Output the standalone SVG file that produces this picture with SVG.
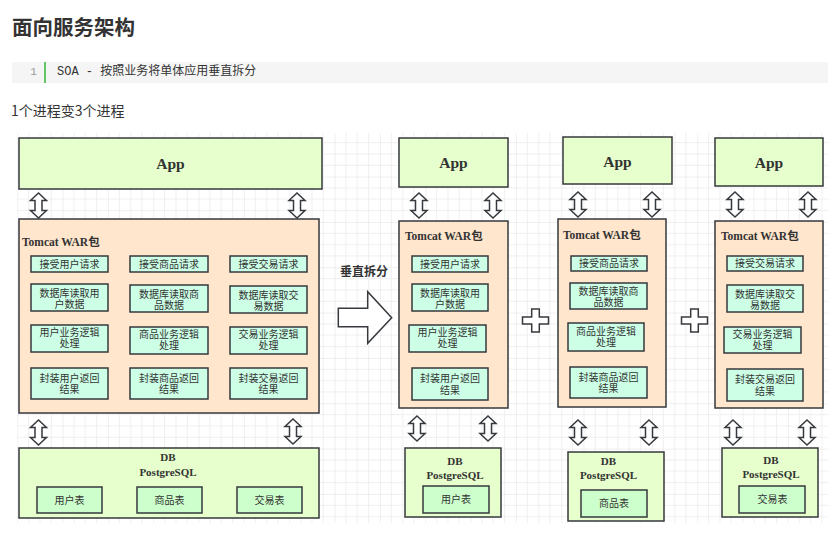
<svg xmlns="http://www.w3.org/2000/svg" width="838" height="534" viewBox="0 0 838 534">
<defs>
<pattern id="grid" patternUnits="userSpaceOnUse" x="17.3" y="131.3" width="45.33" height="45.33">
<path d="M11.33 0V45.33M22.67 0V45.33M34 0V45.33M0 11.33H45.33M0 22.67H45.33M0 34H45.33" stroke="#efefef" stroke-width="1" fill="none"/>
<path d="M0 0V45.33M0 0H45.33" stroke="#e2e2e2" stroke-width="1" fill="none"/>
</pattern>
<path id="dbl" d="M0,0 L8,7.5 L3.5,7.5 L3.5,17.5 L8,17.5 L0,25 L-8,17.5 L-3.5,17.5 L-3.5,7.5 L-8,7.5 Z"/>
<path id="plus" d="M-3.8,-11.5 H3.8 V-3.6 H13 V3.6 H3.8 V11.5 H-3.8 V3.6 H-13 V-3.6 H-3.8 Z"/>
</defs>
<style>
.app{fill:#e6ffcc;stroke:#36393d;stroke-width:1.5}
.tc{fill:#ffe6cc;stroke:#36393d;stroke-width:1.5}
.sb{fill:#ccffe6;stroke:#36393d;stroke-width:1.5}
.tb{fill:#ccffcc;stroke:#36393d;stroke-width:1.5}
.shp{fill:#ffffff;stroke:#36393d;stroke-width:1.5}
.apptx{font-family:"Liberation Serif",serif;font-weight:bold;font-size:15.5px;fill:#333;text-anchor:middle}
.tctx{font-family:"Liberation Serif","Noto Sans CJK SC",serif;font-weight:bold;font-size:11.5px;fill:#333}
.dbtx{font-family:"Liberation Serif",serif;font-weight:bold;font-size:11px;fill:#333;text-anchor:middle}
.st{font-family:"Liberation Sans","Noto Sans CJK SC",sans-serif;font-size:10px;fill:#333;text-anchor:middle}
</style>
<rect x="0" y="0" width="838" height="534" fill="#ffffff"/>
<g id="header">
<text x="12" y="34.5" font-family="'Noto Sans CJK SC',sans-serif" font-weight="bold" font-size="20.5" fill="#333">面向服务架构</text>
<rect x="12" y="62" width="816" height="21" fill="#f5f5f5"/>
<rect x="44" y="62" width="2" height="21" fill="#63c76a"/>
<text x="33.5" y="75" font-family="'Liberation Mono',monospace" font-size="11" fill="#999" text-anchor="middle">1</text>
<text x="57" y="75" font-family="'Liberation Mono','Noto Sans CJK SC',monospace" font-size="12" fill="#333">SOA - 按照业务将单体应用垂直拆分</text>
<text x="11" y="116" font-family="'Noto Sans CJK SC',sans-serif" font-size="14" fill="#333">1个进程变3个进程</text>
</g>
<rect id="canvas" x="17" y="133" width="811" height="390" fill="url(#grid)"/>

<!-- Left monolith -->
<g id="app-mono"><rect class="app" x="19" y="138" width="303" height="51"/><text class="apptx" x="170.5" y="168.5">App</text></g>
<g id="tomcat-mono"><rect class="tc" x="19" y="219" width="300" height="194"/><text class="tctx" x="22" y="246">Tomcat WAR包</text></g>
<g id="m-r1c1"><rect class="sb" x="31" y="256" width="77" height="16"/><text class="st" x="69.5" y="267.7">接受用户请求</text></g>
<g id="m-r1c2"><rect class="sb" x="130" y="256" width="78" height="16"/><text class="st" x="169" y="267.7">接受商品请求</text></g>
<g id="m-r1c3"><rect class="sb" x="230" y="256" width="77" height="16"/><text class="st" x="268.5" y="267.7">接受交易请求</text></g>
<g id="m-r2c1"><rect class="sb" x="31" y="284" width="77" height="27"/><text class="st" x="69.5" y="296.7"><tspan x="69.5">数据库读取用</tspan><tspan x="69.5" dy="11.5">户数据</tspan></text></g>
<g id="m-r2c2"><rect class="sb" x="130" y="285" width="78" height="27"/><text class="st" x="169" y="297.7"><tspan x="169">数据库读取商</tspan><tspan x="169" dy="11.5">品数据</tspan></text></g>
<g id="m-r2c3"><rect class="sb" x="230" y="286" width="77" height="27"/><text class="st" x="268.5" y="298.7"><tspan x="268.5">数据库读取交</tspan><tspan x="268.5" dy="11.5">易数据</tspan></text></g>
<g id="m-r3c1"><rect class="sb" x="31" y="325" width="77" height="27"/><text class="st" x="69.5" y="335.7"><tspan x="69.5">用户业务逻辑</tspan><tspan x="69.5" dy="11.5">处理</tspan></text></g>
<g id="m-r3c2"><rect class="sb" x="130" y="327" width="78" height="27"/><text class="st" x="169" y="337.7"><tspan x="169">商品业务逻辑</tspan><tspan x="169" dy="11.5">处理</tspan></text></g>
<g id="m-r3c3"><rect class="sb" x="230" y="327" width="77" height="27"/><text class="st" x="268.5" y="337.7"><tspan x="268.5">交易业务逻辑</tspan><tspan x="268.5" dy="11.5">处理</tspan></text></g>
<g id="m-r4c1"><rect class="sb" x="31" y="368" width="77" height="31"/><text class="st" x="69.5" y="381.5"><tspan x="69.5">封装用户返回</tspan><tspan x="69.5" dy="11.5">结果</tspan></text></g>
<g id="m-r4c2"><rect class="sb" x="130" y="368" width="78" height="31"/><text class="st" x="169" y="381.5"><tspan x="169">封装商品返回</tspan><tspan x="169" dy="11.5">结果</tspan></text></g>
<g id="m-r4c3"><rect class="sb" x="230" y="368" width="77" height="31"/><text class="st" x="268.5" y="381.5"><tspan x="268.5">封装交易返回</tspan><tspan x="268.5" dy="11.5">结果</tspan></text></g>
<g id="db-mono"><rect class="app" x="19" y="448" width="300" height="70"/><text class="dbtx" x="168" y="460.5">DB</text><text class="dbtx" x="168" y="475.5">PostgreSQL</text></g>
<g id="m-t1"><rect class="tb" x="37" y="487" width="65" height="26"/><text class="st" x="69.5" y="503.7">用户表</text></g>
<g id="m-t2"><rect class="tb" x="137" y="487" width="65" height="26"/><text class="st" x="169.5" y="503.7">商品表</text></g>
<g id="m-t3"><rect class="tb" x="237" y="487" width="65" height="26"/><text class="st" x="269.5" y="503.7">交易表</text></g>

<!-- split arrow -->
<g id="split">
<text x="340" y="276" font-family="'Noto Sans CJK SC',sans-serif" font-weight="bold" font-size="12" fill="#333">垂直拆分</text>
<path class="shp" d="M338.3,308.3 L367.7,308.3 L367.7,291.7 L391.7,317.7 L367.7,343.3 L367.7,326.7 L338.3,326.7 Z"/>
</g>
<g id="plus-1"><use href="#plus" class="shp" x="535.5" y="320.5"/></g>
<g id="plus-2"><use href="#plus" class="shp" x="694.5" y="320.5"/></g>

<!-- User service -->
<g id="app-user"><rect class="app" x="399" y="138" width="109" height="49"/><text class="apptx" x="453.5" y="167.5">App</text></g>
<g id="tomcat-user"><rect class="tc" x="399" y="221" width="109" height="187"/><text class="tctx" x="405" y="240">Tomcat WAR包</text></g>
<g id="u-r1"><rect class="sb" x="412" y="256" width="76" height="16"/><text class="st" x="450" y="267.7">接受用户请求</text></g>
<g id="u-r2"><rect class="sb" x="412" y="284" width="76" height="27"/><text class="st" x="450" y="296.7"><tspan x="450">数据库读取用</tspan><tspan x="450" dy="11.5">户数据</tspan></text></g>
<g id="u-r3"><rect class="sb" x="409" y="325" width="77" height="27"/><text class="st" x="447.5" y="335.7"><tspan x="447.5">用户业务逻辑</tspan><tspan x="447.5" dy="11.5">处理</tspan></text></g>
<g id="u-r4"><rect class="sb" x="412" y="368" width="76" height="32"/><text class="st" x="450" y="382"><tspan x="450">封装用户返回</tspan><tspan x="450" dy="11.5">结果</tspan></text></g>
<g id="db-user"><rect class="app" x="405" y="448" width="96" height="69"/><text class="dbtx" x="455" y="465">DB</text><text class="dbtx" x="455" y="479">PostgreSQL</text></g>
<g id="u-t"><rect class="tb" x="423" y="486" width="66" height="27"/><text class="st" x="456" y="503">用户表</text></g>

<!-- Goods service -->
<g id="app-goods"><rect class="app" x="563" y="137" width="109" height="47"/><text class="apptx" x="617.5" y="166.5">App</text></g>
<g id="tomcat-goods"><rect class="tc" x="558" y="219" width="108" height="188"/><text class="tctx" x="563" y="238.5">Tomcat WAR包</text></g>
<g id="g-r1"><rect class="sb" x="571" y="256" width="76" height="15"/><text class="st" x="609" y="267.2">接受商品请求</text></g>
<g id="g-r2"><rect class="sb" x="570" y="283" width="77" height="26"/><text class="st" x="608.5" y="294.7"><tspan x="608.5">数据库读取商</tspan><tspan x="608.5" dy="11.5">品数据</tspan></text></g>
<g id="g-r3"><rect class="sb" x="568" y="323" width="76" height="28"/><text class="st" x="606" y="334.7"><tspan x="606">商品业务逻辑</tspan><tspan x="606" dy="11.5">处理</tspan></text></g>
<g id="g-r4"><rect class="sb" x="570" y="367" width="77" height="31"/><text class="st" x="608.5" y="380.5"><tspan x="608.5">封装商品返回</tspan><tspan x="608.5" dy="11.5">结果</tspan></text></g>
<g id="db-goods"><rect class="app" x="568" y="452" width="96" height="69"/><text class="dbtx" x="608.5" y="465">DB</text><text class="dbtx" x="608.5" y="478.5">PostgreSQL</text></g>
<g id="g-t"><rect class="tb" x="581" y="490" width="66" height="27"/><text class="st" x="614" y="507">商品表</text></g>

<!-- Trade service -->
<g id="app-trade"><rect class="app" x="715" y="138" width="108" height="48"/><text class="apptx" x="769" y="167.5">App</text></g>
<g id="tomcat-trade"><rect class="tc" x="715" y="221" width="108" height="187"/><text class="tctx" x="721" y="239.5">Tomcat WAR包</text></g>
<g id="t-r1"><rect class="sb" x="727" y="256" width="76" height="15"/><text class="st" x="765" y="267.2">接受交易请求</text></g>
<g id="t-r2"><rect class="sb" x="727" y="285" width="76" height="27"/><text class="st" x="765" y="297.7"><tspan x="765">数据库读取交</tspan><tspan x="765" dy="11.5">易数据</tspan></text></g>
<g id="t-r3"><rect class="sb" x="724" y="327" width="77" height="26"/><text class="st" x="762.5" y="337.7"><tspan x="762.5">交易业务逻辑</tspan><tspan x="762.5" dy="11.5">处理</tspan></text></g>
<g id="t-r4"><rect class="sb" x="727" y="369" width="76" height="32"/><text class="st" x="765" y="383"><tspan x="765">封装交易返回</tspan><tspan x="765" dy="11.5">结果</tspan></text></g>
<g id="db-trade"><rect class="app" x="722" y="448" width="96" height="69"/><text class="dbtx" x="771" y="464">DB</text><text class="dbtx" x="771" y="478">PostgreSQL</text></g>
<g id="tr-t"><rect class="tb" x="739" y="486" width="66" height="27"/><text class="st" x="772.5" y="503">交易表</text></g>

<g id="connectors" class="shp">
<use href="#dbl" x="38.5" y="193"/>
<use href="#dbl" x="297" y="193"/>
<use href="#dbl" x="38.5" y="420"/>
<use href="#dbl" x="293" y="419"/>
<use href="#dbl" x="419" y="193"/>
<use href="#dbl" x="493" y="193"/>
<use href="#dbl" x="417" y="416"/>
<use href="#dbl" x="488" y="416"/>
<use href="#dbl" x="578" y="192"/>
<use href="#dbl" x="652" y="192"/>
<use href="#dbl" x="578" y="420"/>
<use href="#dbl" x="649" y="420"/>
<use href="#dbl" x="735" y="192"/>
<use href="#dbl" x="808" y="192"/>
<use href="#dbl" x="733" y="420"/>
<use href="#dbl" x="807" y="420"/>
</g>
</svg>
